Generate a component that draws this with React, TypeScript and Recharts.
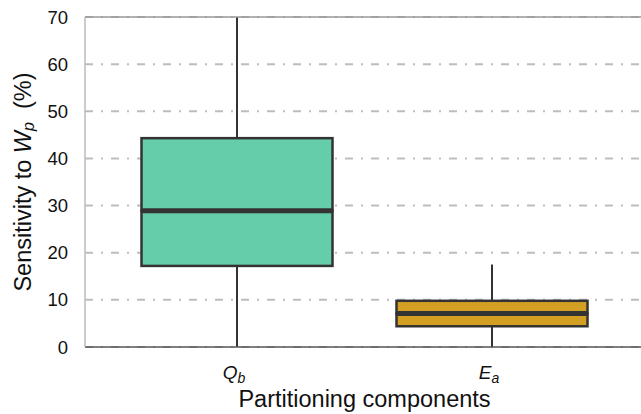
import { ComposedChart, Bar, XAxis, YAxis, CartesianGrid, ReferenceLine } from 'recharts'

// box plot values (%)
const categories = ['Qb', 'Ea']
const tickMain = ['Q', 'E']
const tickSub = ['b', 'a']
const mins = [0, 0]
const q1s = [17.2, 4.4]
const medians = [28.9, 7.1]
const q3s = [44.3, 9.8]
const maxs = [70, 17.5]
const yTicks = [0, 10, 20, 30, 40, 50, 60, 70]

const boxColors = ['#66CDAA', '#D3A024']
const font = '"Liberation Sans", Arial, sans-serif'

const data = categories.map((name, i) => ({
  name,
  base: mins[i],
  lowWhisker: q1s[i] - mins[i],
  lowerBox: medians[i] - q1s[i],
  upperBox: q3s[i] - medians[i],
  highWhisker: maxs[i] - q3s[i],
}))

const Whisker = (props: any) => {
  const { x, y, width, height } = props
  const cx = x + width / 2
  return <line x1={cx} x2={cx} y1={y} y2={y + height} stroke="#333" strokeWidth={2} />
}

const LowerBox = (props: any) => {
  const { x, y, width, height, index } = props
  return (
    <rect x={x} y={y} width={width} height={height} fill={boxColors[index]} stroke="#333" strokeWidth={2.5} />
  )
}

const UpperBox = (props: any) => {
  const { x, y, width, height, index } = props
  return (
    <g>
      <rect x={x} y={y} width={width} height={height} fill={boxColors[index]} stroke="#333" strokeWidth={2.5} />
      <line x1={x} x2={x + width} y1={y + height} y2={y + height} stroke="#333" strokeWidth={5} />
    </g>
  )
}

const CategoryTick = (props: any) => {
  const { x, y, payload } = props
  const i = categories.indexOf(payload.value)
  return (
    <text x={x - 3} y={y + 24} textAnchor="middle" fontFamily={font} fontSize={19} fontStyle="italic" fill="#111">
      {tickMain[i]}
      <tspan fontSize={14} dy={4}>{tickSub[i]}</tspan>
    </text>
  )
}

export default function App() {
  return (
    <div style={{ position: 'absolute', left: 0, top: 0, width: 641, height: 414, overflow: 'hidden', background: '#fff' }}>
      <ComposedChart
        width={644}
        height={414}
        data={data}
        margin={{ top: 17, right: 0, bottom: 0, left: 25 }}
      >
        <CartesianGrid
          horizontal
          vertical={false}
          stroke="#bdbdbd"
          strokeWidth={2}
          strokeDasharray="8 8 2 8"
        />
        <XAxis
          dataKey="name"
          type="category"
          padding={{ left: 24.5, right: 24.5 }}
          height={67}
          axisLine={{ stroke: '#555', strokeWidth: 1.5 }}
          tickLine={false}
          tick={<CategoryTick />}
          label={{
            content: ({ viewBox }: any) => (
              <text
                x={viewBox.x + viewBox.width / 2}
                y={viewBox.y + 60}
                textAnchor="middle"
                fontFamily={font}
                fontSize={23.5}
                fill="#111"
              >
                Partitioning components
              </text>
            ),
          }}
        />
        <YAxis
          width={60}
          domain={[0, 70]}
          ticks={yTicks}
          interval={0}
          allowDataOverflow
          axisLine={{ stroke: '#bbb', strokeWidth: 1.5 }}
          tickLine={false}
          tickSize={0}
          tickMargin={17}
          tick={{ fontFamily: font, fontSize: 18.5, fill: '#111' }}
          label={{
            content: ({ viewBox }: any) => {
              const cx = 23
              const cy = viewBox.y + viewBox.height / 2
              return (
                <text
                  x={cx}
                  y={cy}
                  transform={`rotate(-90 ${cx} ${cy})`}
                  textAnchor="middle"
                  dominantBaseline="central"
                  fontFamily={font}
                  fontSize={23.5}
                  fill="#111"
                  style={{ whiteSpace: 'pre' }}
                >
                  Sensitivity to <tspan fontStyle="italic">W</tspan>
                  <tspan fontStyle="italic" fontSize={16} dy={5}>p</tspan>
                  <tspan dy={-5}>{'  (%)'}</tspan>
                </text>
              )
            },
          }}
        />
        <ReferenceLine y={70} stroke="#999" strokeWidth={1.5} />
        <Bar dataKey="base" stackId="box" fill="none" barSize={191} isAnimationActive={false} />
        <Bar dataKey="lowWhisker" stackId="box" barSize={191} shape={<Whisker />} isAnimationActive={false} />
        <Bar dataKey="lowerBox" stackId="box" barSize={191} shape={<LowerBox />} isAnimationActive={false} />
        <Bar dataKey="upperBox" stackId="box" barSize={191} shape={<UpperBox />} isAnimationActive={false} />
        <Bar dataKey="highWhisker" stackId="box" barSize={191} shape={<Whisker />} isAnimationActive={false} />
      </ComposedChart>
    </div>
  )
}
